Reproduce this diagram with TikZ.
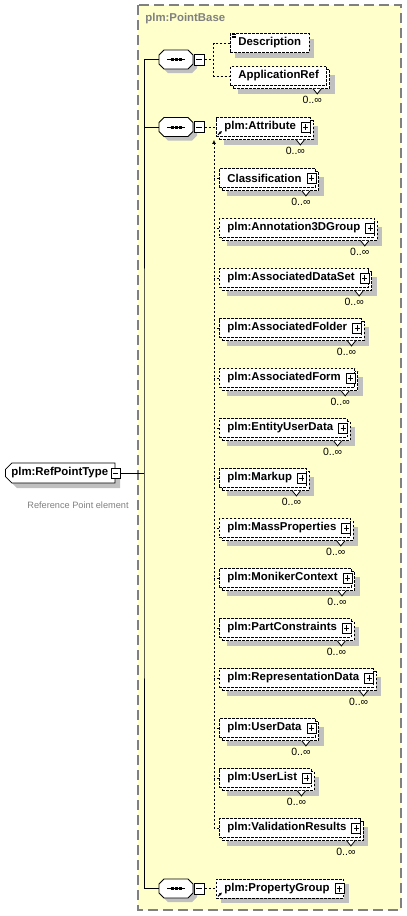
\documentclass[tikz,border=0pt]{standalone}
\usepackage{fontspec}
\setmainfont{Liberation Sans}
\usepackage{tikz}
\usetikzlibrary{arrows.meta,calc,shapes.misc,shadows}
\usepackage{xcolor}
\definecolor{xsdyellow}{RGB}{255,255,204}
\definecolor{xsdgray}{RGB}{128,128,128}
\definecolor{xsdshade}{RGB}{192,192,192}

\begin{document}
\begin{tikzpicture}[x=1pt,y=-1pt,line width=0.8pt,>=Latex,
    panel/.style={draw=xsdgray,fill=xsdyellow,line width=1.3pt,dash pattern=on 10pt off 5pt},
    elem/.style={draw,fill=white,dash pattern=on 2.5pt off 1.5pt,anchor=west,minimum height=19pt,
        inner ysep=0pt,inner xsep=8pt,font=\fontsize{11.4}{12}\bfseries},
    single/.style={general shadow={fill=xsdshade,draw=none,shadow xshift=5pt,shadow yshift=-5pt}},
    multi/.style={general shadow={fill=xsdshade,draw=none,shadow xshift=8pt,shadow yshift=-8pt},
        general shadow={fill=white,draw=black,dash pattern=on 2.5pt off 1.5pt,shadow xshift=3pt,shadow yshift=-3pt}},
    conn/.style={dash pattern=on 2.5pt off 1.5pt},
    mult/.style={anchor=east,font=\fontsize{10.5}{12}\selectfont,inner sep=0pt},
    minus/.style={draw,solid,fill=white,minimum width=9pt,minimum height=10pt,inner sep=0pt,
        path picture={\draw ([xshift=2pt]path picture bounding box.west) -- ([xshift=-2pt]path picture bounding box.east);}},
    plus/.style={draw,solid,fill=white,minimum width=9pt,minimum height=10pt,inner sep=0pt,
        path picture={\draw ([xshift=2pt]path picture bounding box.west) -- ([xshift=-2pt]path picture bounding box.east);
            \draw ([yshift=-2pt]path picture bounding box.north) -- ([yshift=2pt]path picture bounding box.south);}},
    seq/.style={minimum width=34pt,minimum height=19pt,inner sep=0pt},
    rootbox/.style={chamfered rectangle,chamfered rectangle corners={north west,south west},chamfered rectangle xsep=3pt,
        draw,fill=white,anchor=west,minimum height=20pt,inner ysep=0pt,inner xsep=3pt,
        font=\fontsize{11.4}{12}\bfseries,single}]
    \useasboundingbox (0,0) rectangle (407,916);

    % PointBase group
    \draw[panel] (138,5) rectangle (401,910);
    \node[anchor=west,inner sep=0pt,text=xsdgray,font=\fontsize{11.4}{12}\bfseries] (pbase) at (145,19) {plm:PointBase};

    % root element
    \node[rootbox] (root) at (5,473) {plm:RefPointType\kern1pt};
    \node[minus] (rootm) at (root.east) {};
    \node[text=xsdgray,font=\fontsize{9.2}{11}\selectfont] (rootdoc) at (78,505) {Reference Point element};
    \coordinate (bus) at (144,473);

    % sequences
    \node[seq] (s1) at (176,59.5) {};
    \node[seq] (s2) at (176,127) {};
    \node[seq] (s3) at (176,888.5) {};
    \foreach \s in {s1,s2,s3} {
        \fill[xsdshade,shift={($(\s.center)+(4,4)$)}] (-17,-4.5) -- (-12,-9.5) -- (12,-9.5) -- (17,-4.5)
            -- (17,4.5) -- (12,9.5) -- (-12,9.5) -- (-17,4.5) -- cycle;
        \draw[fill=white,shift={(\s.center)}] (-17,-4.5) -- (-12,-9.5) -- (12,-9.5) -- (17,-4.5)
            -- (17,4.5) -- (12,9.5) -- (-12,9.5) -- (-17,4.5) -- cycle;
        \draw ($(\s.center)+(-9,0)$) -- ($(\s.center)+(9,0)$);
        \foreach \dx in {-4,0,4}
            \fill ($(\s.center)+(\dx,0)$) +(-1.5,-1.5) rectangle +(1.5,1.5);
    }
    \node[minus,minimum width=10pt,minimum height=11pt] (s1m) at ($(s1.east)+(6,0)$) {};
    \node[minus,minimum width=10pt,minimum height=11pt] (s2m) at ($(s2.east)+(6,0)$) {};
    \node[minus,minimum width=10pt,minimum height=11pt] (s3m) at ($(s3.east)+(6,0)$) {};

    \draw (rootm.east) -- (bus);
    \draw (s1.west) -| (bus) |- (s3.west);
    \draw (s2.west) -- (s2.west -| bus);

    % first sequence
    \node[elem,single] (desc) at (230,43) {Description};
    \node[elem,multi] (appref) at (230,76) {ApplicationRef};
    \foreach \dy in {1.5,3,4.5}
        \draw[solid,line width=0.6pt] ($(desc.north west)+(1.5,\dy)$) -- ++(4,0);
    \coordinate (j1) at ($(s1m.east)+(9,0)$);
    \draw[conn] (s1m.east) -- (j1);
    \draw[conn] (desc.west) -| (j1) |- (appref.west);

    % second sequence
    \node[elem,multi] (attr) at (216,127) {plm:Attribute\kern6pt};
    \node[plus] (attr p) at ($(attr.east)+(-4.5,0)$) {};
    \draw[conn] (s2m.east) -- (attr.west);
    \foreach \nm [count=\k from 0] in {Classification,plm:Annotation3DGroup,plm:AssociatedDataSet,
        plm:AssociatedFolder,plm:AssociatedForm,plm:EntityUserData,plm:Markup,plm:MassProperties,
        plm:MonikerContext,plm:PartConstraints,plm:RepresentationData,plm:UserData,plm:UserList,
        plm:ValidationResults} {
        \node[elem,multi] (e\k) at (219,{178+50*\k}) {\nm\kern6pt};
        \node[plus] (e\k p) at ($(e\k.east)+(-4.5,0)$) {};
        \draw[conn] (e\k.west) -- ++(-5,0);
    }
    \coordinate (j2) at ($(attr.south west)+(-2,3)$);
    \draw[conn,-{Latex[length=4pt,width=4pt]}] (e13.west) -| (j2);

    % third sequence
    \node[elem,single] (pgroup) at (216,888.5) {plm:PropertyGroup\kern6pt};
    \node[plus] (pgroup p) at ($(pgroup.east)+(-4.5,0)$) {};
    \draw[conn] (s3m.east) -- (pgroup.west);

    % references
    \foreach \n in {attr,pgroup}
        \draw[solid,line width=1pt,-{Latex[length=3pt,width=3pt]}] ($(\n.south west)+(2,-2)$) -- ++(4,-4);

    % multiplicities
    \foreach \n in {appref,attr,e0,e1,e2,e3,e4,e5,e6,e7,e8,e9,e10,e11,e12,e13} {
        \draw[solid,fill=white] ($(\n.south east)+(-14,3)$) -- ++(4,5) -- ++(4,-5);
        \node[mult] (\n m) at ($(\n.east)+(-5,24)$) {0..∞};
    }
\end{tikzpicture}
\end{document}
